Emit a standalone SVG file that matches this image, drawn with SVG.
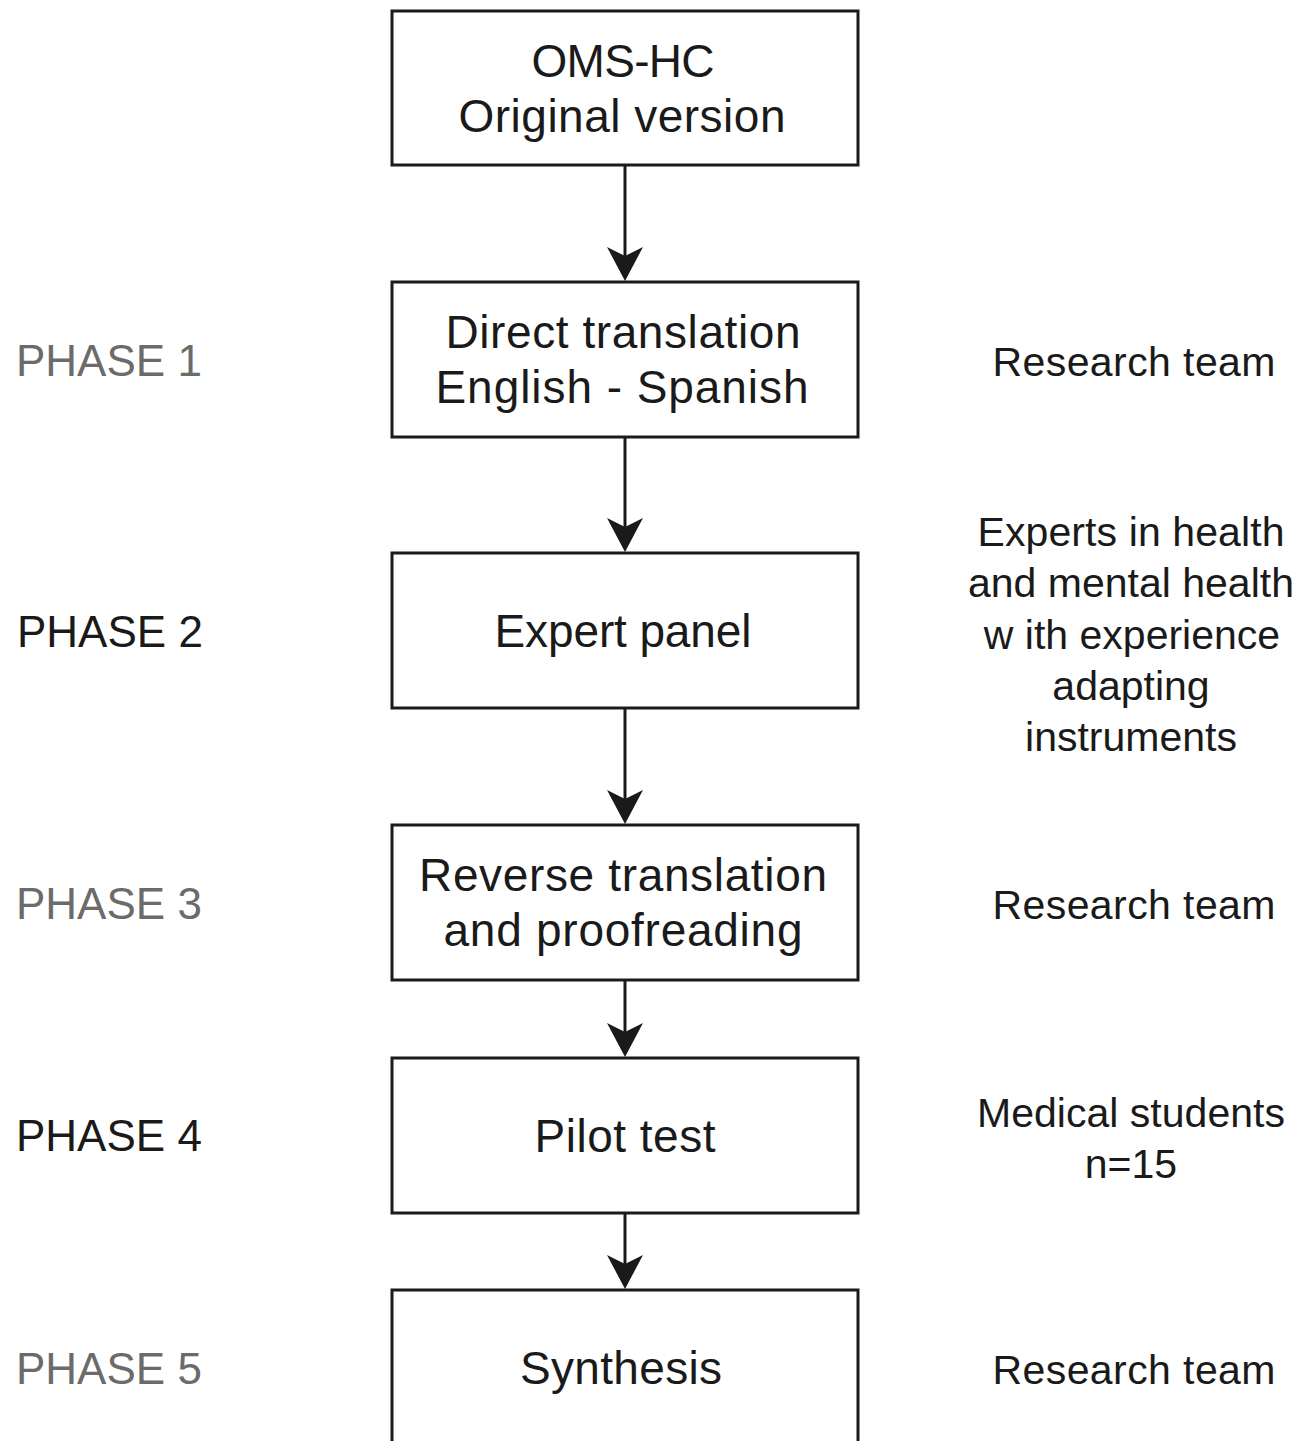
<svg xmlns="http://www.w3.org/2000/svg" width="1307" height="1441" viewBox="0 0 1307 1441">
<style>
.box{fill:#fff;stroke:#1a1a1a;stroke-width:3}
.bt{font-family:"Liberation Sans",Arial,sans-serif;font-size:46px;fill:#1a1a1a;text-anchor:middle}
.ph{font-family:"Liberation Sans",Arial,sans-serif;font-size:44px}
.gray{fill:#6b6b6b}
.dark{fill:#1a1a1a}
.rt{font-family:"Liberation Sans",Arial,sans-serif;font-size:41px;fill:#1a1a1a;text-anchor:middle}
.conn{stroke:#1a1a1a;stroke-width:3;fill:none;marker-end:url(#arr)}
</style>
<defs>
<marker id="arr" markerUnits="userSpaceOnUse" viewBox="0 0 34 36" refX="9" refY="18" markerWidth="34" markerHeight="36" orient="auto">
<path d="M0,0 L34,18 L0,36 L9,18 Z" fill="#1a1a1a"/>
</marker>
</defs>
<rect width="1307" height="1441" fill="#fff"/>
<g id="connectors">
<line class="conn" x1="625" y1="165" x2="625" y2="256"/>
<line class="conn" x1="625" y1="437" x2="625" y2="527"/>
<line class="conn" x1="625" y1="708" x2="625" y2="799"/>
<line class="conn" x1="625" y1="980" x2="625" y2="1032"/>
<line class="conn" x1="625" y1="1213" x2="625" y2="1264"/>
</g>
<g id="node-oms">
<rect class="box" x="392" y="11" width="466" height="154"/>
<text class="bt" x="623" y="77" textLength="183" lengthAdjust="spacing">OMS-HC</text>
<text class="bt" x="622" y="132" textLength="327" lengthAdjust="spacing">Original version</text>
</g>
<g id="node-direct">
<rect class="box" x="392" y="282" width="466" height="155"/>
<text class="bt" x="623" y="348" textLength="355" lengthAdjust="spacing">Direct translation</text>
<text class="bt" x="622" y="403" textLength="373" lengthAdjust="spacing">English - Spanish</text>
</g>
<g id="node-expert">
<rect class="box" x="392" y="553" width="466" height="155"/>
<text class="bt" x="623" y="647" textLength="257" lengthAdjust="spacing">Expert panel</text>
</g>
<g id="node-reverse">
<rect class="box" x="392" y="825" width="466" height="155"/>
<text class="bt" x="623" y="891" textLength="408" lengthAdjust="spacing">Reverse translation</text>
<text class="bt" x="623" y="946" textLength="359" lengthAdjust="spacing">and proofreading</text>
</g>
<g id="node-pilot">
<rect class="box" x="392" y="1058" width="466" height="155"/>
<text class="bt" x="625" y="1152" textLength="181" lengthAdjust="spacing">Pilot test</text>
</g>
<g id="node-synthesis">
<rect class="box" x="392" y="1290" width="466" height="170"/>
<text class="bt" x="621" y="1384" textLength="202" lengthAdjust="spacing">Synthesis</text>
</g>
<g id="phase-labels">
<text class="ph gray" x="16" y="376">PHASE 1</text>
<text class="ph dark" x="17" y="647">PHASE 2</text>
<text class="ph gray" x="16" y="919">PHASE 3</text>
<text class="ph dark" x="16" y="1151">PHASE 4</text>
<text class="ph gray" x="16" y="1384">PHASE 5</text>
</g>
<g id="role-labels">
<text class="rt" x="1134" y="376" textLength="283" lengthAdjust="spacing">Research team</text>
<text class="rt" x="1131" y="546" textLength="307" lengthAdjust="spacing">Experts in health</text>
<text class="rt" x="1131" y="597">and mental health</text>
<text class="rt" x="1132" y="649">w ith experience</text>
<text class="rt" x="1131" y="700">adapting</text>
<text class="rt" x="1131" y="751">instruments</text>
<text class="rt" x="1134" y="919" textLength="283" lengthAdjust="spacing">Research team</text>
<text class="rt" x="1131" y="1127" textLength="308" lengthAdjust="spacing">Medical students</text>
<text class="rt" x="1131" y="1178">n=15</text>
<text class="rt" x="1134" y="1384" textLength="283" lengthAdjust="spacing">Research team</text>
</g>
</svg>
